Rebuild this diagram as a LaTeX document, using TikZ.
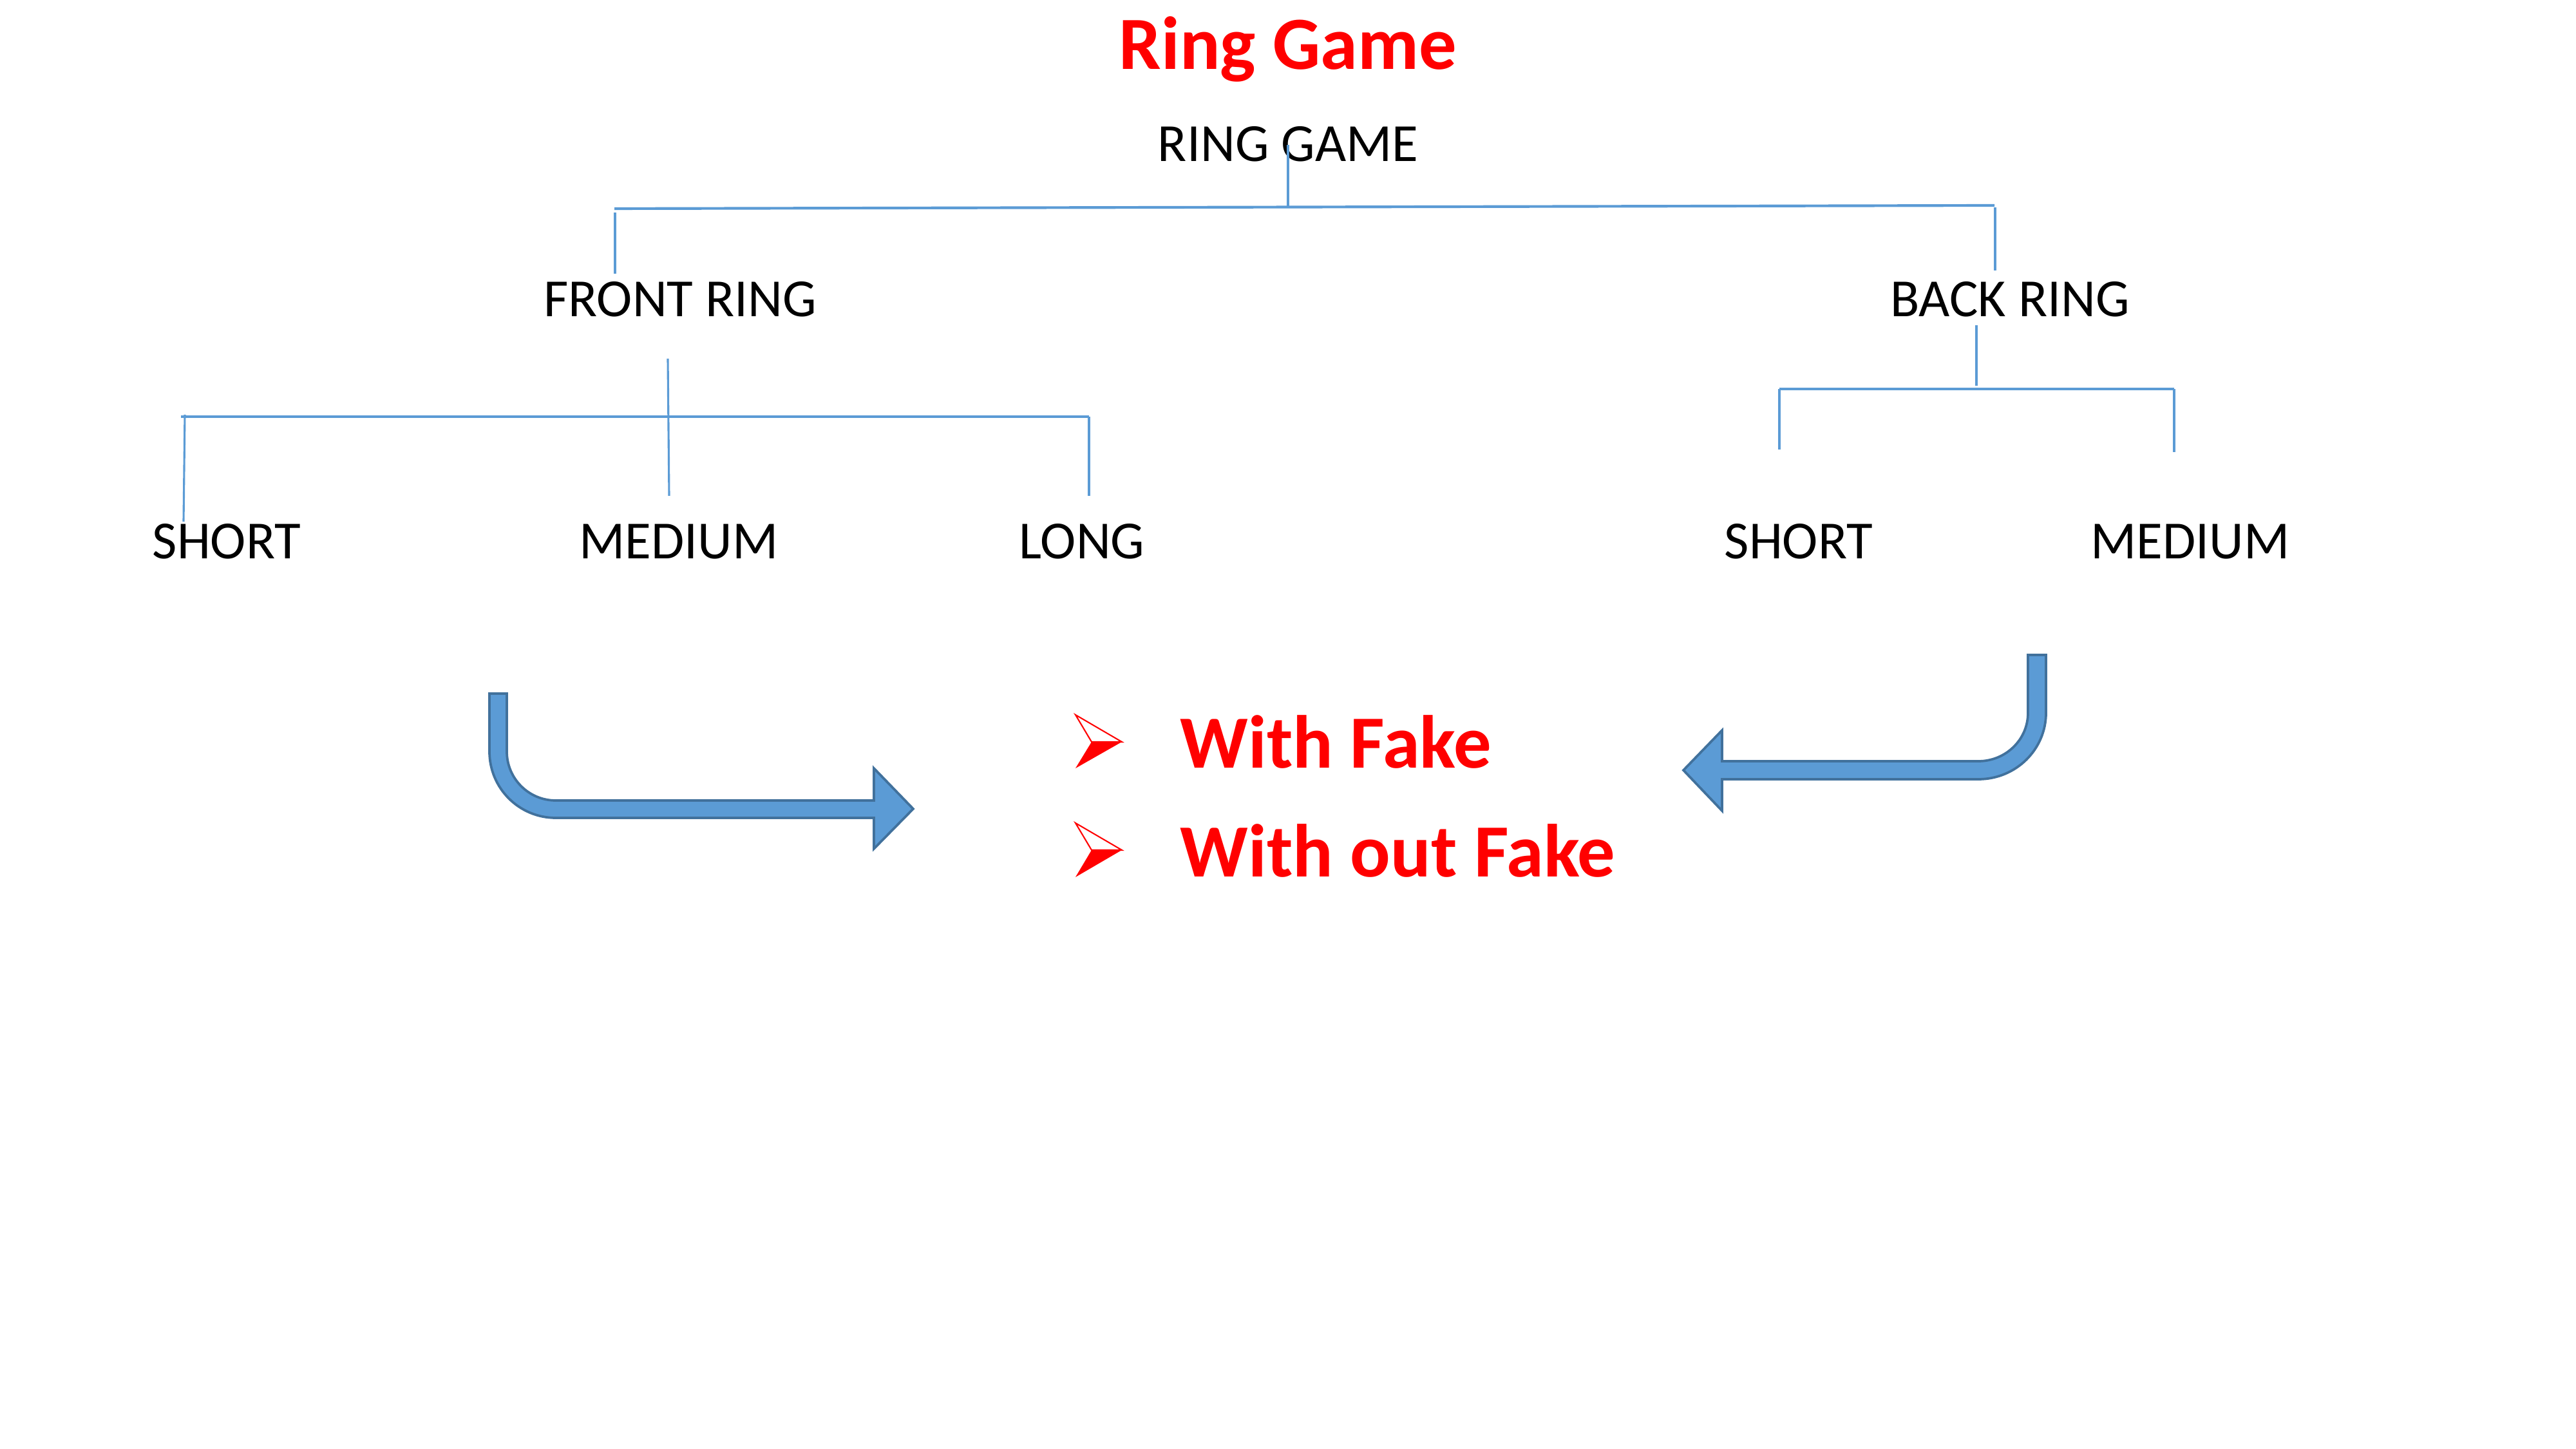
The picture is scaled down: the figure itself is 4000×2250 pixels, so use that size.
\documentclass[tikz,border=0pt]{standalone}
\usepackage{fontspec}
\setmainfont{Carlito}
\definecolor{linkblue}{HTML}{5B9BD5}
\definecolor{arrowfill}{HTML}{5B9BD5}
\definecolor{arrowedge}{HTML}{41719C}
\definecolor{redtext}{HTML}{FF0000}
\begin{document}
\begin{tikzpicture}[x=0.24pt,y=-0.24pt,
  treetext/.style={anchor=base,inner sep=0pt,font=\fontsize{20}{24}\selectfont,text=black},
  redtitle/.style={anchor=base,inner sep=0pt,font=\fontsize{28}{34}\selectfont\bfseries,text=redtext},
  bullettext/.style={anchor=base west,inner sep=0pt,font=\fontsize{28}{34}\selectfont\bfseries,text=redtext},
  treeline/.style={draw=linkblue,line width=0.75pt},
  bentarrow/.style={fill=arrowfill,draw=arrowedge,line width=0.9pt,line join=miter},
  bulletedge/.style={draw=redtext,line width=0.5pt,line join=miter},
  bulletfill/.style={fill=redtext}]
\useasboundingbox (0,0) rectangle (4000,2250);

% texts
\node[redtitle] (title) at (2000,108) {Ring Game};
\node[treetext] (root) at (2000,251) {RING GAME};
\node[treetext] (front) at (1056,492) {FRONT RING};
\node[treetext] (back) at (3121,492) {BACK RING};
\node[treetext] (fshort) at (352,868) {SHORT};
\node[treetext] (fmedium) at (1054,868) {MEDIUM};
\node[treetext] (flong) at (1680,868) {LONG};
\node[treetext] (bshort) at (2793,868) {SHORT};
\node[treetext] (bmedium) at (3401,868) {MEDIUM};
\node[bullettext] (wf) at (1832,1193) {With Fake};
\node[bullettext] (wof) at (1832,1362) {With out Fake};

% tree junction coordinates
\coordinate (rs1) at (2000,225);
\coordinate (rs2) at (2000,321);
\coordinate (tb1) at (954,324);
\coordinate (tb2) at (3097,319);
\coordinate (fd1) at (955,330);
\coordinate (fd2) at (955,425);
\coordinate (bd1) at (3098,322);
\coordinate (bd2) at (3098,420);
\coordinate (fs1) at (1037,557);
\coordinate (fs2) at (1039,770);
\coordinate (fb1) at (281,647);
\coordinate (fb2) at (1691,647);
\coordinate (sd1) at (287,644);
\coordinate (sd2) at (285,810);
\coordinate (ld1) at (1691,647);
\coordinate (ld2) at (1691,770);
\coordinate (bs1) at (3069,505);
\coordinate (bs2) at (3069,599);
\coordinate (bb1) at (2763,604);
\coordinate (bb2) at (3376,604);
\coordinate (bsd) at (2763,698);
\coordinate (bmd) at (3376,702);

\draw[treeline] (rs1) -- (rs2);
\draw[treeline,line width=1pt] (tb1) -- (tb2);
\draw[treeline] (fd1) -- (fd2);
\draw[treeline] (bd1) -- (bd2);
\draw[treeline] (fs1) -- (fs2);
\draw[treeline] (fb1) -- (fb2);
\draw[treeline] (sd1) -- (sd2);
\draw[treeline] (ld1) -- (ld2);
\draw[treeline] (bs1) -- (bs2);
\draw[treeline] (bb1) -- (bb2);
\draw[treeline] (bb1) -- (bsd);
\draw[treeline] (bb2) -- (bmd);

% left bent arrow
\draw[bentarrow] (760,1077) -- (760,1167)
  .. controls (760,1224) and (806,1270) .. (863,1270)
  -- (1357,1270) -- (1357,1318) -- (1418,1256) -- (1357,1193) -- (1357,1243)
  -- (863,1243)
  .. controls (821,1243) and (787,1209) .. (787,1167)
  -- (787,1077) -- cycle;

% right bent arrow
\draw[bentarrow] (3149,1017) -- (3177,1017) -- (3177,1107)
  .. controls (3177,1164) and (3130,1210) .. (3072,1210)
  -- (2674,1210) -- (2674,1259) -- (2614,1196) -- (2674,1134) -- (2674,1182)
  -- (3072,1182)
  .. controls (3114,1182) and (3149,1149) .. (3149,1107)
  -- cycle;

% bullets
\draw[bulletedge] (1670,1110) -- (1742,1152) -- (1695,1152) -- cycle;
\fill[bulletfill] (1695,1152) -- (1742,1152) -- (1670,1193) -- cycle;
\draw[bulletedge] (1670,1278) -- (1742,1320) -- (1695,1320) -- cycle;
\fill[bulletfill] (1695,1320) -- (1742,1320) -- (1670,1362) -- cycle;
\end{tikzpicture}
\end{document}
